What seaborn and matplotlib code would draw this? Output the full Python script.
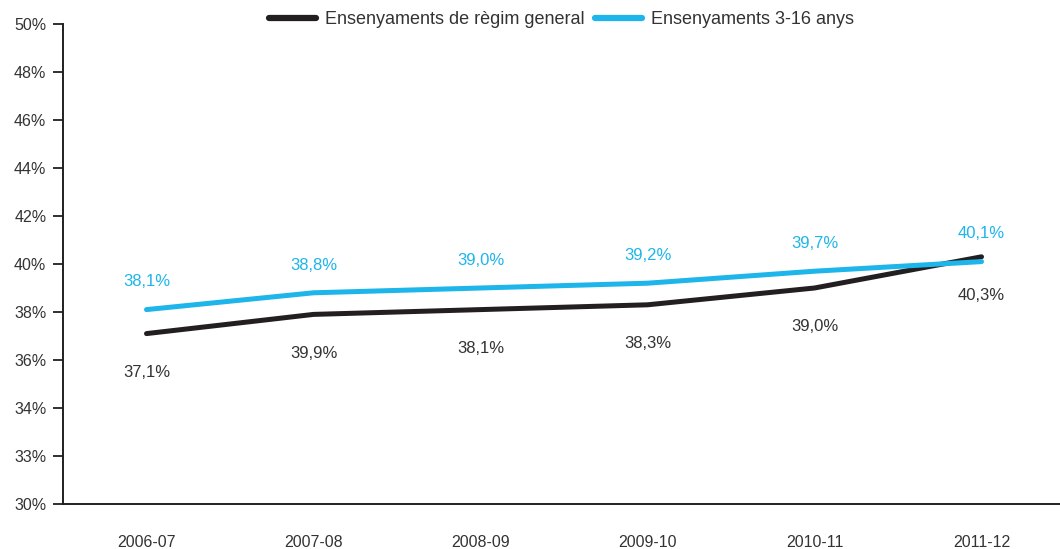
import numpy as np
import pandas as pd
import seaborn as sns
import matplotlib.pyplot as plt

# Data
courses = ['2006-07', '2007-08', '2008-09', '2009-10', '2010-11', '2011-12']
general = [37.1, 37.9, 38.1, 38.3, 39.0, 40.3]
general_labels = ['37,1%', '39,9%', '38,1%', '38,3%', '39,0%', '40,3%']
edu_3_16 = [38.1, 38.8, 39.0, 39.2, 39.7, 40.1]
edu_3_16_labels = ['38,1%', '38,8%', '39,0%', '39,2%', '39,7%', '40,1%']
y_ticks = [30, 32, 34, 36, 38, 40, 42, 44, 46, 48, 50]
y_tick_labels = ['30%', '33%', '34%', '36%', '38%', '40%', '42%', '44%', '46%', '48%', '50%']

name_gen = 'Ensenyaments de règim general'
name_316 = 'Ensenyaments 3-16 anys'

df = pd.DataFrame({
    'curs': courses * 2,
    'pos': list(range(len(courses))) * 2,
    'valor': general + edu_3_16,
    'serie': [name_gen] * len(courses) + [name_316] * len(courses),
})

sns.set_theme(style='white')
plt.rcParams['font.family'] = ['Liberation Sans', 'DejaVu Sans']

black = '#231f20'
blue = '#1db5ea'
txt = '#333333'

fig = plt.figure(figsize=(10.6, 5.49), dpi=100)
ax = fig.add_axes([63 / 1060, 45 / 549, 1 - 63 / 1060, 480 / 549])

sns.lineplot(data=df, x='pos', y='valor', hue='serie',
             palette={name_gen: black, name_316: blue},
             linewidth=3.6, ax=ax, legend=True)
for line in ax.lines:
    line.set_solid_capstyle('round')

# data labels
for i in range(len(courses)):
    ax.annotate(edu_3_16_labels[i], (i, edu_3_16[i]), xytext=(0, 20),
                textcoords='offset points', ha='center', va='center',
                color=blue, fontsize=12)
    ax.annotate(general_labels[i], (i, general[i]), xytext=(0, -28),
                textcoords='offset points', ha='center', va='center',
                color=txt, fontsize=12)

ax.set_ylim(30, 50)
ax.set_xlim(-0.5, 5.47)
ax.set_yticks(y_ticks)
ax.set_yticklabels(y_tick_labels)
ax.set_xticks(range(len(courses)))
ax.set_xticklabels(courses)
ax.set_xticks(np.arange(-0.5, 5.0, 1.0), minor=True)
ax.tick_params(axis='x', which='major', length=0, pad=22, labelsize=11.5, labelcolor=txt)
ax.tick_params(axis='x', which='minor', length=8, width=1.3, color=black, direction='out')
ax.tick_params(axis='y', length=7, width=1.3, color=black, direction='out',
               labelsize=11.5, labelcolor=txt, pad=5, left=True)
ax.set_xlabel('')
ax.set_ylabel('')

sns.despine(ax=ax)
for s in ['left', 'bottom']:
    ax.spines[s].set_color(black)
    ax.spines[s].set_linewidth(1.4)

leg = ax.legend(loc='upper center', bbox_to_anchor=(0.5, 1.06), ncol=2,
                frameon=False, fontsize=13, handlelength=2.6,
                columnspacing=0.6, handletextpad=0.5)
for h in leg.get_lines():
    h.set_linewidth(4.5)
for t in leg.get_texts():
    t.set_color(txt)

fig.savefig('out.png', dpi=100)
